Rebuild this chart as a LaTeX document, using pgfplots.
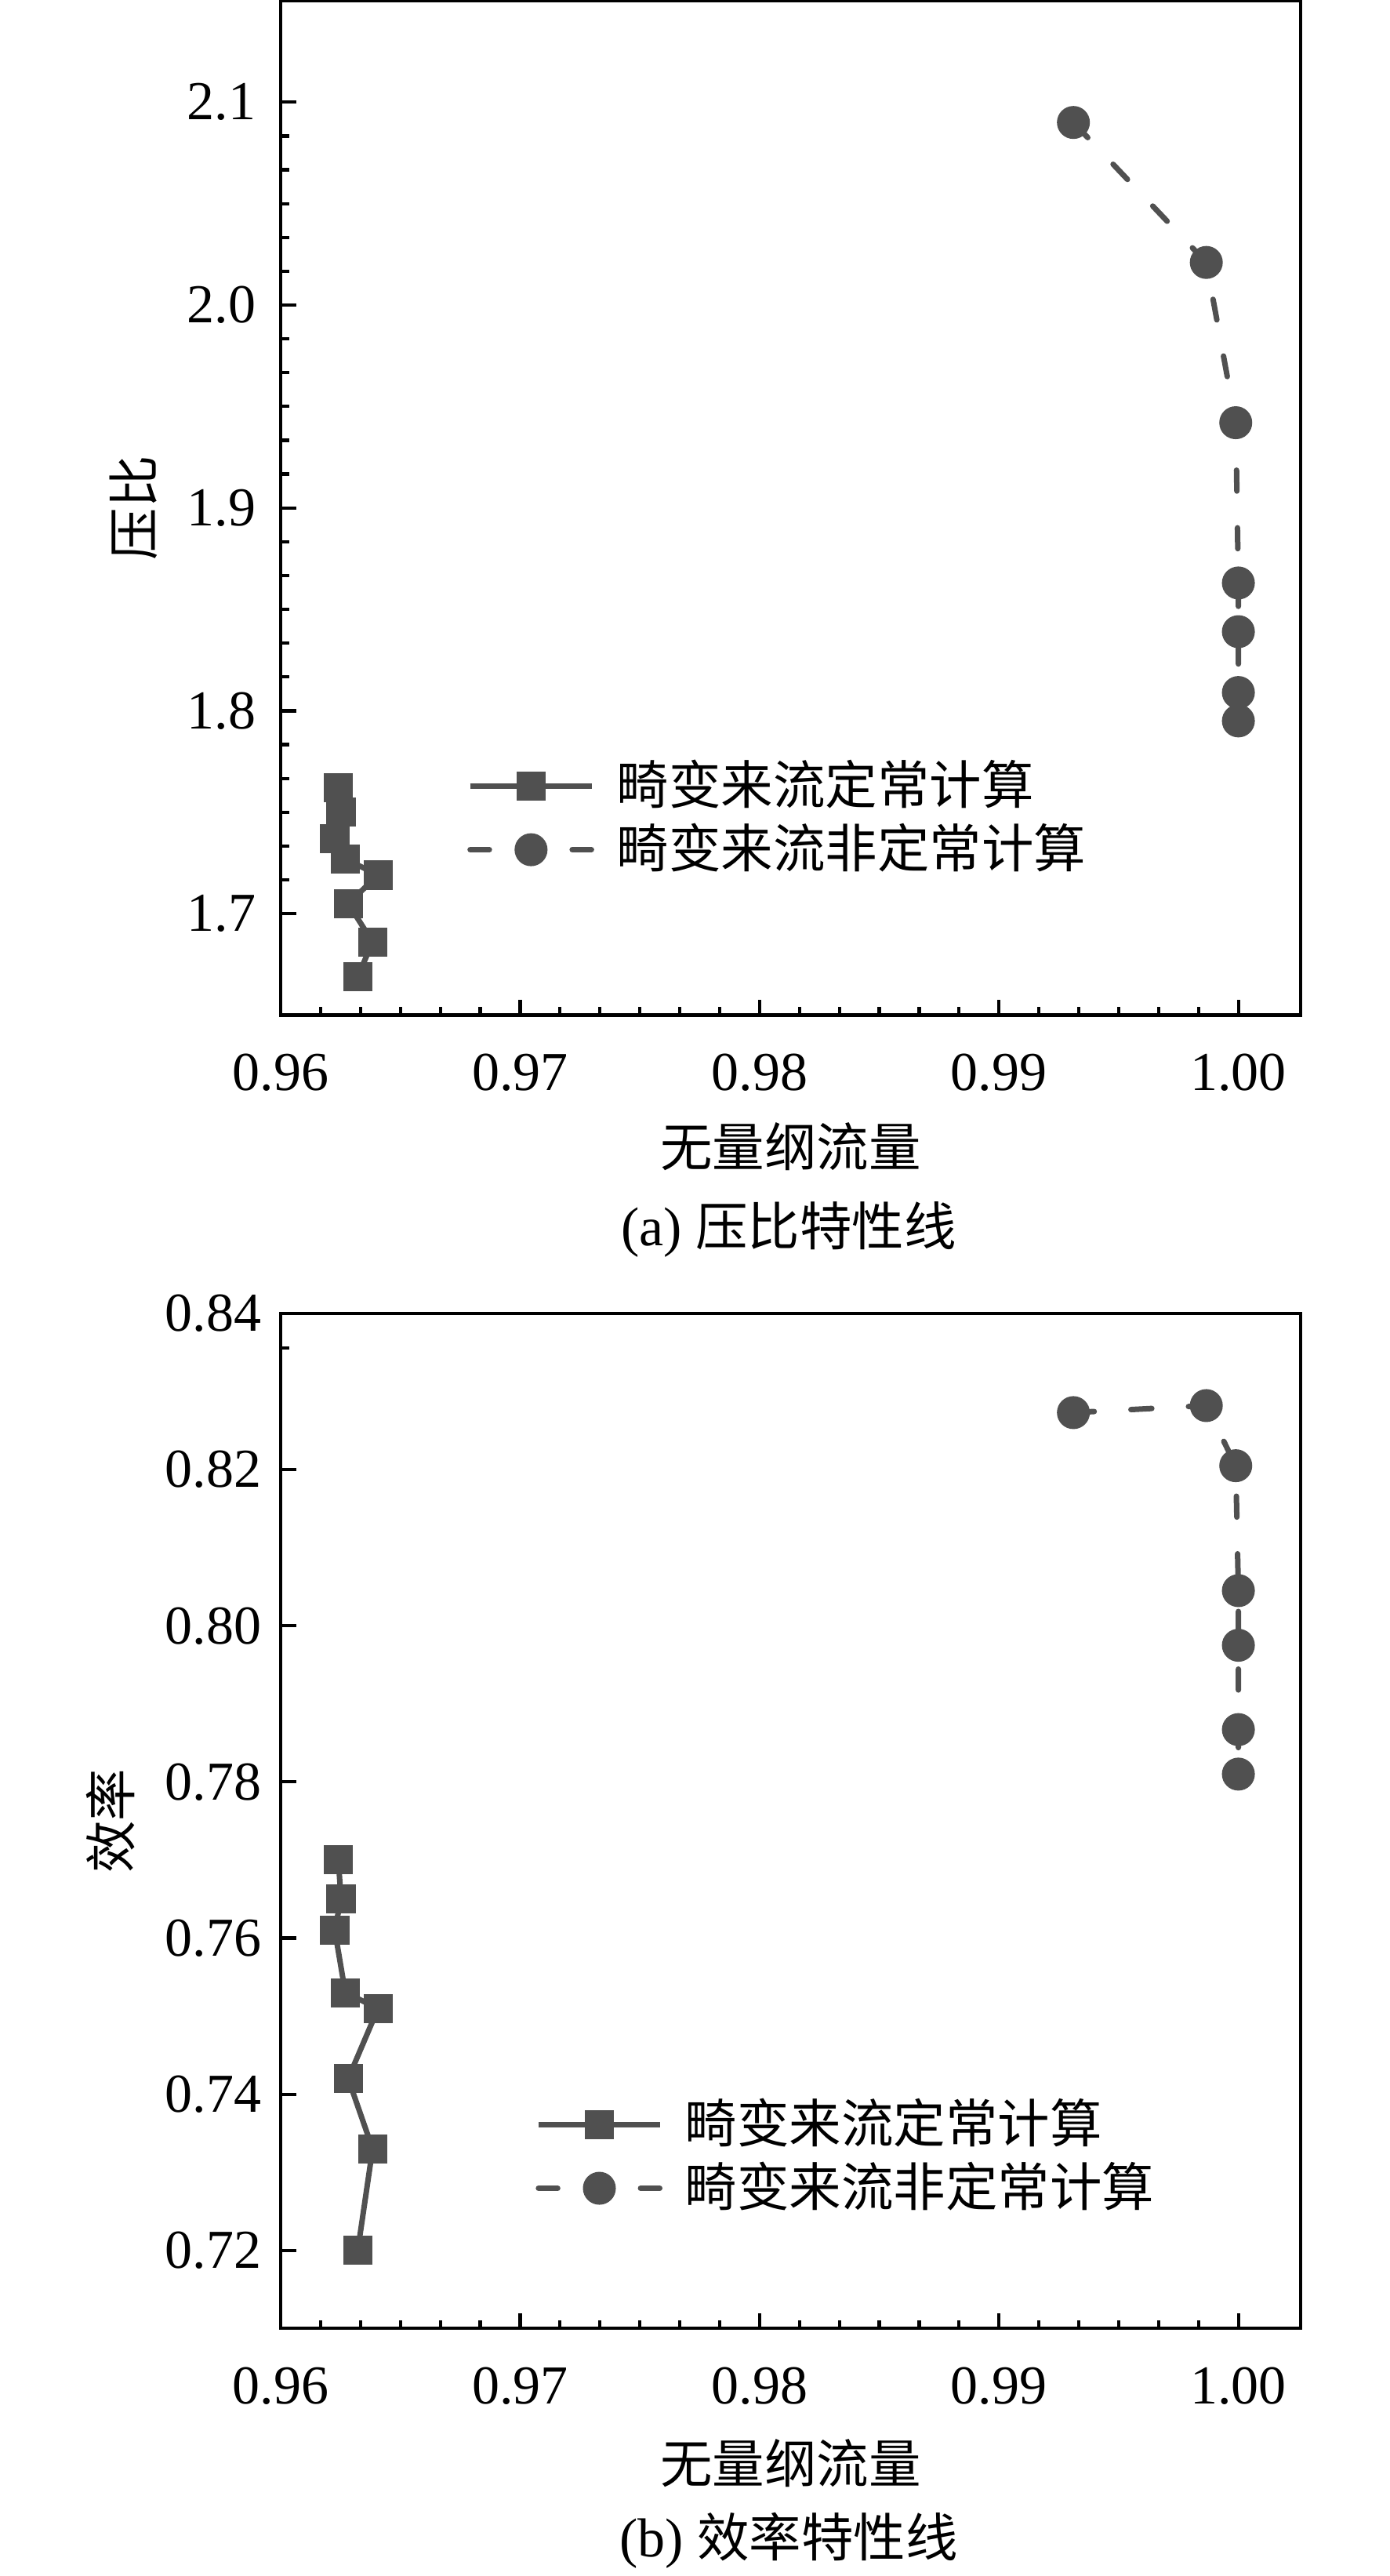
\documentclass[border=0pt]{standalone}
\usepackage{fontspec}
\setmainfont{Liberation Serif}
\newfontfamily\cjk{Noto Sans CJK SC}
\usepackage{pgfplots}
\usepackage{pgfplotstable}
\pgfplotsset{compat=1.18}
\definecolor{dg}{RGB}{80,80,80}

\pgfplotstableread{
x y
0.96241 1.762
0.96252 1.750
0.96226 1.737
0.96270 1.727
0.96407 1.719
0.96282 1.705
0.96384 1.686
0.96322 1.669
}\steadyPR
\pgfplotstableread{
x y
0.99311 2.090
0.99866 2.021
0.99989 1.942
1.00000 1.863
1.00000 1.839
1.00000 1.809
1.00000 1.795
}\unsteadyPR
\pgfplotstableread{
x y
0.96241 0.770
0.96252 0.765
0.96226 0.761
0.96270 0.753
0.96407 0.751
0.96282 0.742
0.96384 0.733
0.96322 0.720
}\steadyEff
\pgfplotstableread{
x y
0.99311 0.8273
0.99866 0.8282
0.99989 0.8205
1.00000 0.8045
1.00000 0.7975
1.00000 0.7867
1.00000 0.7810
}\unsteadyEff

\pgfplotsset{
  myax/.style={
    scale only axis,
    width=185.857pt,
    axis line style={line width=0.6pt, black},
    tick pos=left,
    tick align=inside,
    major tick length=2.8pt,
    minor tick length=1.5pt,
    every tick/.style={black, line width=0.6pt},
    xmin=0.96, xmax=1.0026,
    xtick={0.96,0.97,0.98,0.99,1.00},
    minor x tick num=5,
    scaled ticks=false,
    /pgf/number format/assume math mode=true,
    tick label style={font=\fontsize{10}{12}\selectfont},
    xticklabel style={/pgf/number format/.cd, fixed, fixed zerofill, precision=2},
    xticklabel shift=3.5pt,
    label style={font=\fontsize{9.5}{11}\selectfont\cjk},
    legend cell align=left,
    legend style={draw=none, fill=none, inner sep=0pt,
      nodes={inner sep=1pt, anchor=west},
      row sep=0pt,
      font=\fontsize{9.5}{11}\selectfont\cjk,
      anchor=north west,
      /tikz/every odd column/.style={column sep=3pt}},
    legend image code/.code={\draw[mark repeat=2,mark phase=2] plot coordinates {(0cm,0cm)(0.39cm,0cm)(0.78cm,0cm)};},
  },
  steady/.style={color=dg, line width=1pt, mark=square*, mark size=2.15pt, mark options={solid, fill=dg, draw=dg}},
  unsteady/.style={color=dg, line width=1pt, line cap=round, dash pattern=on 3.8pt off 6.7pt, mark=*, mark size=2.5pt, mark options={solid, fill=dg, draw=dg},
    legend image post style={dash pattern=on 3.5pt off 15.1pt}},
}

\begin{document}
\begin{tikzpicture}
\useasboundingbox (0,0) rectangle (253.143pt,469.286pt);

\begin{axis}[myax,
  at={(51.143pt,284.357pt)}, anchor=south west,
  height=184.786pt,
  ymin=1.65, ymax=2.15,
  ytick={1.7,1.8,1.9,2.0,2.1},
  minor y tick num=5,
  yticklabel style={/pgf/number format/.cd, fixed, fixed zerofill, precision=1},
  yticklabel shift=1pt,
  xlabel={无量纲流量},
  xlabel style={at={(axis description cs:0.5,-0.1299)}, anchor=center},
  ylabel={压比},
  ylabel style={at={(axis description cs:-0.1445,0.5)}, anchor=center},
  legend style={at={(0.182,0.258)}},
]
\addplot[steady] table[x=x,y=y] {\steadyPR};
\addlegendentry{畸变来流定常计算}
\addplot[unsteady] table[x=x,y=y] {\unsteadyPR};
\addlegendentry{畸变来流非定常计算}
\end{axis}

\node[font=\fontsize{10}{12}\selectfont] at (143.7pt,245.3pt) {(a) {\fontsize{9.5}{11}\selectfont\cjk 压比特性线}};

\begin{axis}[myax,
  at={(51.143pt,45.1pt)}, anchor=south west,
  height=184.9pt,
  ymin=0.71, ymax=0.84,
  ytick={0.72,0.74,0.76,0.78,0.80,0.82,0.84},
  yticklabel style={/pgf/number format/.cd, fixed, fixed zerofill, precision=2},
  extra y ticks={0.8356},
  extra y tick labels={},
  extra y tick style={major tick length=1.5pt},
  xlabel={无量纲流量},
  xlabel style={at={(axis description cs:0.5,-0.1329)}, anchor=center},
  ylabel={效率},
  ylabel style={at={(axis description cs:-0.1668,0.5)}, anchor=center},
  legend style={at={(0.249,0.233)}},
]
\addplot[steady] table[x=x,y=y] {\steadyEff};
\addlegendentry{畸变来流定常计算}
\addplot[unsteady] table[x=x,y=y] {\unsteadyEff};
\addlegendentry{畸变来流非定常计算}
\end{axis}

\node[font=\fontsize{10}{12}\selectfont] at (143.7pt,6.43pt) {(b) {\fontsize{9.5}{11}\selectfont\cjk 效率特性线}};
\end{tikzpicture}
\end{document}
